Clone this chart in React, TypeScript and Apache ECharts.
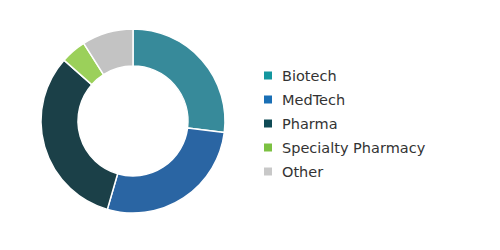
import React, { useEffect, useRef } from "react";
import * as echarts from "echarts";

const categories = ["Biotech", "MedTech", "Pharma", "Specialty Pharmacy", "Other"];
const values = [27, 27.5, 32, 4.5, 9];
const sliceColors = ["#378a9a", "#2a65a3", "#1b4048", "#9bd05a", "#c3c3c3"];
const legendColors = ["#14979f", "#1a6fb5", "#0f4a55", "#7cc142", "#c8c8c8"];

export default function App() {
  const ref = useRef<HTMLDivElement>(null);
  useEffect(() => {
    document.body.style.margin = "0";
    const chart = echarts.init(ref.current!, null, { renderer: "svg" });
    chart.setOption({
      animation: false,
      legend: {
        orient: "vertical",
        left: 262,
        top: 68,
        padding: 0,
        itemWidth: 10,
        itemHeight: 10,
        itemGap: 9,
        icon: "rect",
        textStyle: {
          fontFamily: "DejaVu Sans",
          fontSize: 14.5,
          lineHeight: 14,
          color: "#333",
          padding: [0, 0, 0, 4],
        },
        data: categories.map((n, i) => ({ name: n, itemStyle: { color: legendColors[i] } })),
      },
      series: [
        {
          type: "pie",
          center: [133, 121],
          radius: [55, 92],
          startAngle: 90,
          clockwise: true,
          label: { show: false },
          labelLine: { show: false },
          emphasis: { disabled: true },
          itemStyle: { borderColor: "#fff", borderWidth: 1.5 },
          data: categories.map((n, i) => ({ name: n, value: values[i], itemStyle: { color: sliceColors[i] } })),
        },
      ],
    });
    return () => chart.dispose();
  }, []);
  return <div ref={ref} style={{ width: 500, height: 250 }} />;
}
